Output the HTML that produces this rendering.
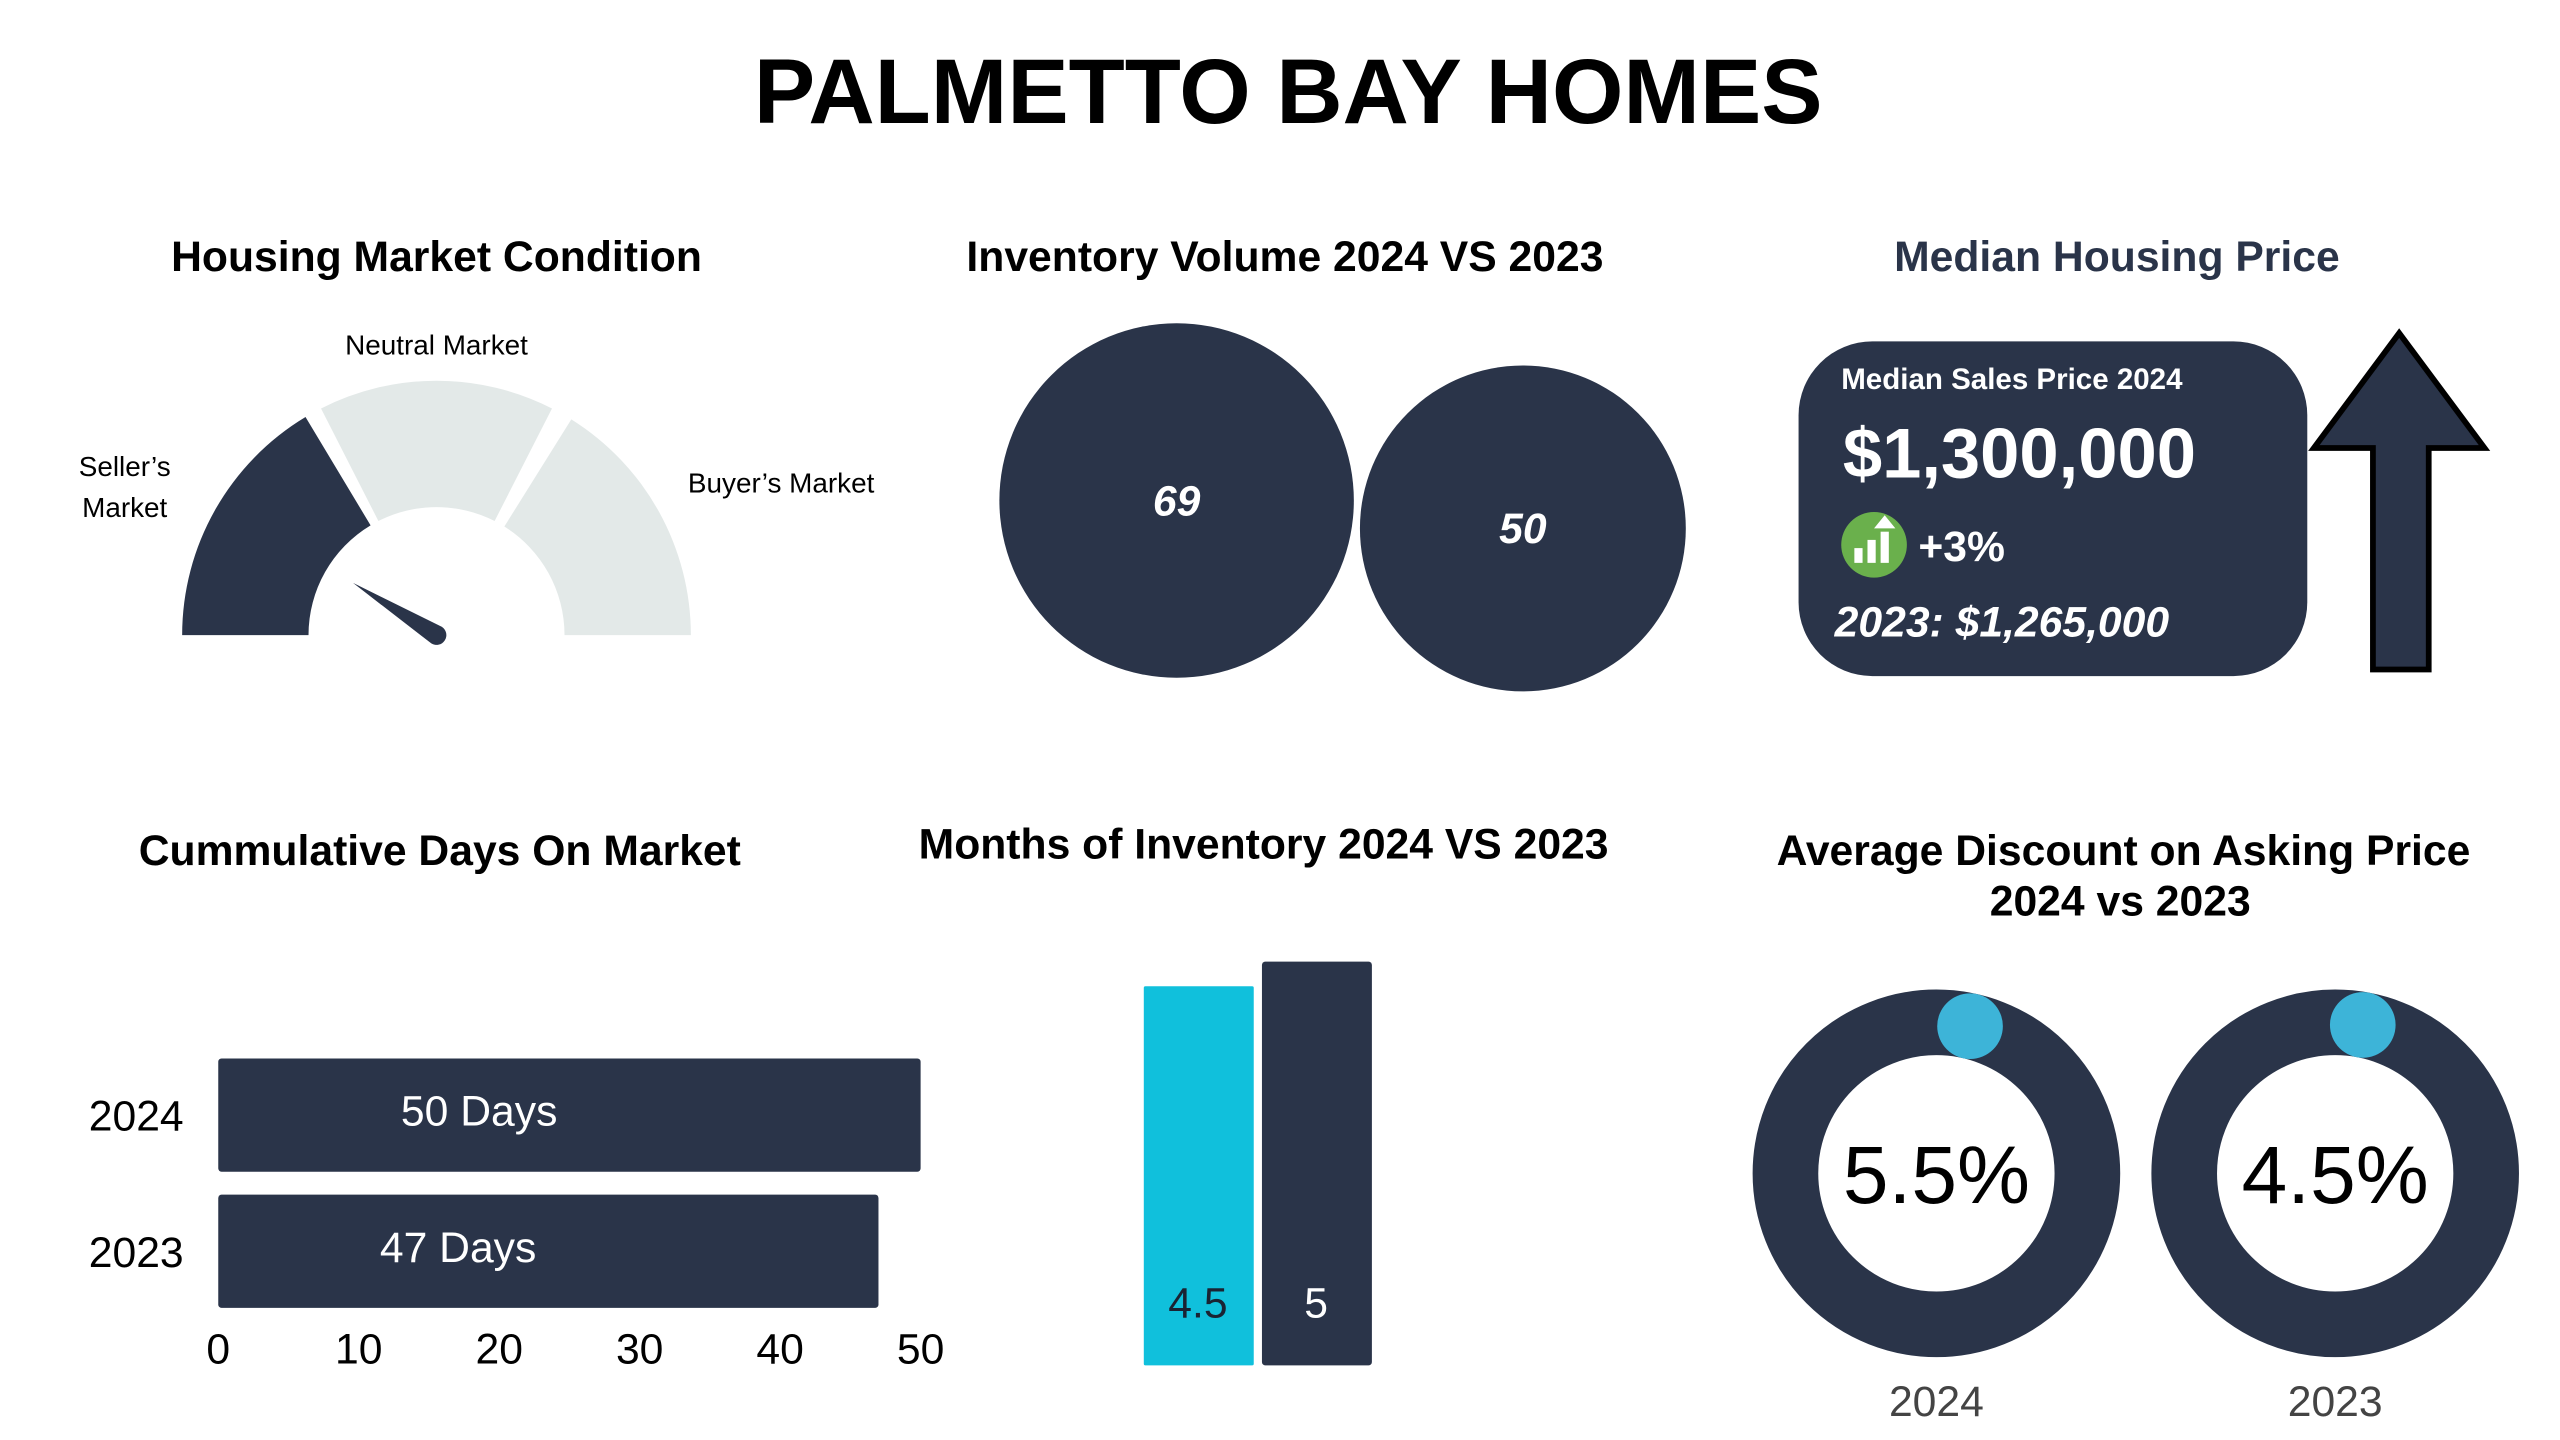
<!DOCTYPE html>
<html><head><meta charset="utf-8"><style>
html,body{margin:0;padding:0;background:#fff;}
svg{display:block;font-family:"Liberation Sans",sans-serif;}
</style></head><body>
<svg id="c" width="2560" height="1440" viewBox="0 0 1560 877.5" xmlns="http://www.w3.org/2000/svg">
<text x="785" y="75" text-anchor="middle" font-size="56" font-weight="bold" fill="#000">PALMETTO BAY HOMES</text>
<g font-size="26" font-weight="bold" text-anchor="middle">
<text x="266" y="165" fill="#000">Housing Market Condition</text>
<text x="783" y="165" fill="#000">Inventory Volume 2024 VS 2023</text>
<text x="1290" y="165" fill="#2a3449">Median Housing Price</text>
<text x="268" y="527" fill="#000">Cummulative Days On Market</text>
<text x="770" y="523" fill="#000">Months of Inventory 2024 VS 2023</text>
<text x="1294" y="527" fill="#000">Average Discount on Asking Price</text>
<text x="1292" y="558" fill="#000">2024 vs 2023</text>
</g>
<g id="gauge"></g>
<g font-size="17" fill="#000" text-anchor="middle">
<text x="266" y="216">Neutral Market</text>
<text x="76" y="290">Seller’s</text>
<text x="76" y="315">Market</text>
<text x="476" y="300">Buyer’s Market</text>
</g>
<g id="bubbles"></g>
<g>
<rect x="1096" y="208" width="310" height="204" rx="45" fill="#2a3449"/>
<text x="1122" y="237" font-size="18" font-weight="bold" fill="#fff">Median Sales Price 2024</text>
<text x="1123" y="291" font-size="43" font-weight="bold" fill="#fff">$1,300,000</text>
<circle cx="1142" cy="332" r="20" fill="#6ab04c"/>
<rect x="1130" y="334" width="5" height="9" fill="#fff"/><rect x="1138" y="329" width="5" height="14" fill="#fff"/><rect x="1146" y="324" width="5" height="19" fill="#fff"/>
<polygon points="1148.5,314 1155,322 1142,322" fill="#fff"/>
<text x="1169" y="342" font-size="26" font-weight="bold" fill="#fff">+3%</text>
<text x="1118" y="388" font-size="26" font-weight="bold" font-style="italic" fill="#fff">2023: $1,265,000</text>
</g>
<polygon points="1462,203 1514,273 1480,273 1480,408 1446,408 1446,273 1410,273" fill="#2a3449" stroke="#000" stroke-width="3.5"/>
<g id="days"></g>
<g id="months"></g>
<g id="donuts"></g>
<script>
const NS="http://www.w3.org/2000/svg";
const gaugeSegments=["Seller's","Neutral","Buyer's"];
const gaugeStart=[180,117,58];
const gaugeEnd=[121,63,0];
const needleAngle=148;
const invYears=["2024","2023"];
const invValues=[69,50];
const dayYears=["2024","2023"];
const dayValues=[50,47];
const dayTicks=[0,10,20,30,40,50];
const monthYears=["2024","2023"];
const monthValues=[4.5,5];
const discYears=["2024","2023"];
const discValues=[5.5,4.5];
function mk(t,a,p){const e=document.createElementNS(NS,t);for(const k in a)e.setAttribute(k,a[k]);(p||document.getElementById('c')).appendChild(e);return e;}
const D="#2a3449";
// gauge
const gcx=266,gcy=387,ro=155,ri=78;
const gg=document.getElementById('gauge');
function pt(a,r){const t=a*Math.PI/180;return [gcx+r*Math.cos(t),gcy-r*Math.sin(t)];}
gaugeSegments.forEach((s,i)=>{const a0=gaugeStart[i],a1=gaugeEnd[i];
const p1=pt(a0,ro),p2=pt(a1,ro),p3=pt(a1,ri),p4=pt(a0,ri);
const e=mk('path',{d:`M${p1} A${ro},${ro} 0 0 1 ${p2} L${p3} A${ri},${ri} 0 0 0 ${p4} Z`,fill:i==0?D:"#e3e9e8"},gg);

});
{const t=pt(needleAngle,68),b1=pt(needleAngle-90,6),b2=pt(needleAngle+90,6);
const n=mk('path',{d:`M${pt(needleAngle,60)} L${b1} A6,6 0 0 1 ${b2} Z`,fill:D},gg);

}
// bubbles
const bg=document.getElementById('bubbles');
const bcx=[717,928],bcy=[305,322],rUnit=108/Math.sqrt(69);
invValues.forEach((v,i)=>{const r=rUnit*Math.sqrt(v)*(i==0?1:1.08);
const c=mk('circle',{cx:bcx[i],cy:bcy[i],r:r,fill:D},bg);


const t=mk('text',{x:bcx[i],y:bcy[i]+9,'text-anchor':'middle','font-size':26,'font-weight':'bold','font-style':'italic',fill:'#fff'},bg);t.textContent=v;

});
// days
const dg=document.getElementById('days');
const x0=133,xs=v=>x0+v*(561-133)/50;
const by=[645,728],bh=69;
dayValues.forEach((v,i)=>{const r=mk('rect',{x:x0,y:by[i],width:xs(v)-x0,height:bh,rx:2,fill:D},dg);


const t=mk('text',{x:(x0+xs(v))/2-55,y:by[i]+41,'text-anchor':'middle','font-size':26,fill:'#fff'},dg);t.textContent=v+" Days";


const y=mk('text',{x:83,y:by[i]+44,'text-anchor':'middle','font-size':26,fill:'#000'},dg);y.textContent=dayYears[i];

});
dayTicks.forEach(v=>{const t=mk('text',{x:xs(v),y:831,'text-anchor':'middle','font-size':26,fill:'#000'},dg);t.textContent=v;

});
// months
const mg=document.getElementById('months');
const base=832,ys=v=>base-30*(v+3.2);
const mx=[697,769],mc=["#10c0dc",D];
monthValues.forEach((v,i)=>{const r=mk('rect',{x:mx[i],y:ys(v),width:67,height:base-ys(v),rx:i==1?2:1,fill:mc[i]},mg);


const t=mk('text',{x:mx[i]+33,y:803,'text-anchor':'middle','font-size':26,fill:i==0?'#1a2333':'#fff'},mg);t.textContent=v;

});
// donuts
const og=document.getElementById('donuts');
const ocx=[1180,1423],ocy=715;
discValues.forEach((v,i)=>{const c=mk('circle',{cx:ocx[i],cy:ocy,r:92,fill:'none',stroke:D,'stroke-width':40},og);


const a=v/100*2*Math.PI*0.65;
const d=mk('circle',{cx:ocx[i]+92*Math.sin(a),cy:ocy-92*Math.cos(a),r:20,fill:'#3db4d8'},og);


const t=mk('text',{x:ocx[i],y:ocy+18,'text-anchor':'middle','font-size':50,fill:'#000'},og);t.textContent=v+"%";


const y=mk('text',{x:ocx[i],y:863,'text-anchor':'middle','font-size':26,fill:'#444'},og);y.textContent=discYears[i];

});
</script>
</svg>
</body></html>
